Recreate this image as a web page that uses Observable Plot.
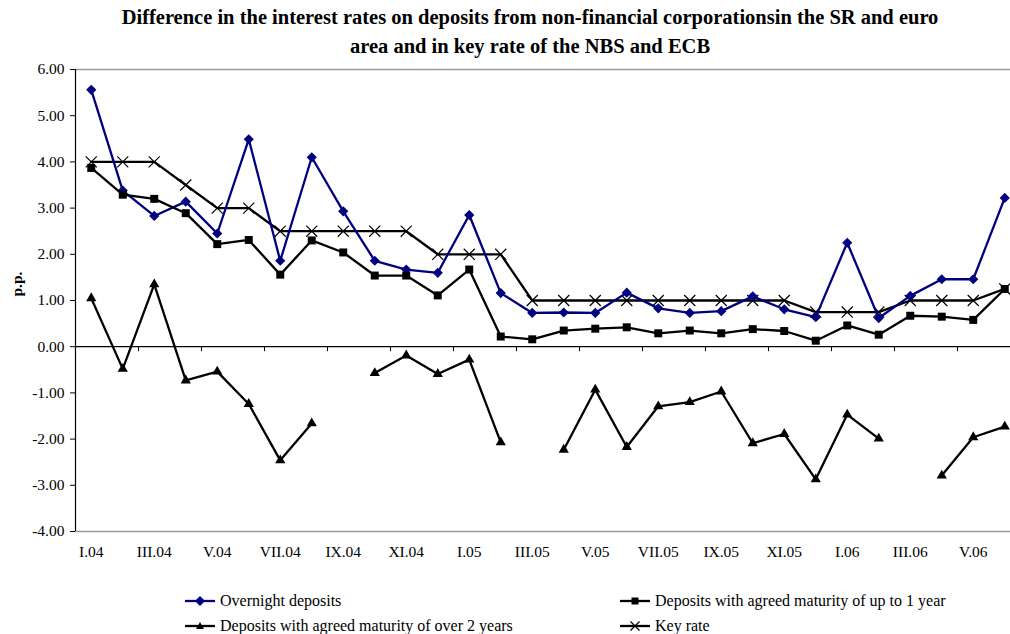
<!DOCTYPE html>
<html>
<head>
<meta charset="utf-8">
<script src="https://cdn.jsdelivr.net/npm/d3@7"></script>
<script src="https://cdn.jsdelivr.net/npm/@observablehq/plot@0.6"></script>
<style>
  html, body { margin: 0; padding: 0; background: #fff; }
  #wrap { position: relative; width: 1010px; height: 634px; overflow: hidden; font-family: "Liberation Serif", "Times New Roman", serif; color: #000; }
  #title { position: absolute; left: 30px; top: 3px; width: 1000px; text-align: center; font-weight: bold; font-size: 20.5px; line-height: 29px; white-space: nowrap; }
  #chart { position: absolute; left: 0; top: 62px; }
  .leg { position: absolute; display: flex; align-items: center; font-size: 16px; white-space: nowrap; }
  .leg svg { margin-right: 4px; }
</style>
</head>
<body>
<div id="wrap">
  <div id="title">Difference in the interest rates on deposits from non-financial corporationsin the SR and euro<br>area and in key rate of the NBS and ECB</div>
  <div id="chart"></div>
  <div id="legend"></div>
</div>
<script>
const months = ["I.04","II.04","III.04","IV.04","V.04","VI.04","VII.04","VIII.04","IX.04","X.04","XI.04","XII.04",
  "I.05","II.05","III.05","IV.05","V.05","VI.05","VII.05","VIII.05","IX.05","X.05","XI.05","XII.05",
  "I.06","II.06","III.06","IV.06","V.06","VI.06"];
const overnight = [5.56,3.38,2.83,3.14,2.45,4.49,1.86,4.10,2.93,1.86,1.67,1.60,2.85,1.16,0.73,0.74,0.73,1.17,0.83,0.73,0.77,1.09,0.81,0.64,2.25,0.62,1.10,1.46,1.46,3.22];
const upTo1y = [3.87,3.29,3.20,2.89,2.22,2.31,1.56,2.30,2.04,1.54,1.54,1.11,1.67,0.22,0.16,0.35,0.39,0.42,0.29,0.35,0.29,0.38,0.34,0.13,0.46,0.26,0.67,0.65,0.58,1.25];
const over2y = [1.05,-0.48,1.35,-0.73,-0.54,-1.24,-2.46,-1.66,null,-0.57,-0.19,-0.59,-0.28,-2.07,null,-2.23,-0.93,-2.17,-1.29,-1.20,-0.97,-2.09,-1.89,-2.87,-1.47,-1.99,null,-2.79,-1.96,-1.73];
const keyRate = [4.00,4.00,4.00,3.50,3.00,3.00,2.50,2.50,2.50,2.50,2.50,2.00,2.00,2.00,1.00,1.00,1.00,1.00,1.00,1.00,1.00,1.00,1.00,0.75,0.75,0.75,1.00,1.00,1.00,1.25];
const yTicks = [-4,-3,-2,-1,0,1,2,3,4,5,6];

const seriesNames = ["Overnight deposits","Deposits with agreed maturity of up to 1 year","Deposits with agreed maturity of over 2 years","Key rate"];
const toRows = (vals) => vals.map((v, i) => ({i, v}));
const labelIdx = months.map((m, i) => i).filter(i => i % 2 === 0);
const tickIdx = months.map((m, i) => i + 0.5).filter((t, k) => k % 2 === 1);

const NAVY = "#000080";
const chart = Plot.plot({
  width: 1010,
  height: 510,
  marginTop: 7,
  marginBottom: 41,
  marginLeft: 75,
  marginRight: -10,
  style: {fontFamily: "'Liberation Serif', 'Times New Roman', serif", fontSize: "15.5px", color: "#000", overflow: "visible"},
  x: {type: "linear", domain: [-0.5, months.length - 0.5], axis: null},
  y: {domain: [-4, 6], axis: null},
  marks: [
    Plot.ruleY([6, -4], {stroke: "#9a9a9a", strokeWidth: 1.5}),
    Plot.ruleX([-0.5], {stroke: "#000", strokeWidth: 1.2}),
    Plot.axisY({ticks: yTicks, tickFormat: d => d.toFixed(2), tickSize: 5, tickPadding: 6, fontSize: 15.5, anchor: "left", stroke: "#000", label: null}),
    Plot.ruleY([0], {stroke: "#000", strokeWidth: 1.2}),
    Plot.ruleX(tickIdx, {x: d => d, y1: 0, y2: 0, insetBottom: -5, stroke: "#000"}),
    Plot.axisX({ticks: labelIdx, tickFormat: i => months[i], tickSize: 0, tickPadding: 14, fontSize: 15.5, anchor: "bottom", label: null}),
    Plot.text(["p.p."], {frameAnchor: "left", dx: -58, dy: -4, rotate: -90, fontWeight: "bold", fontSize: 15.5}),
    // Key rate
    Plot.line(toRows(keyRate), {x: "i", y: "v", stroke: "#000", strokeWidth: 2.3}),
    Plot.dot(toRows(keyRate), {x: "i", y: "v", symbol: "times", r: 5.1, stroke: "#000", strokeWidth: 1.2, fill: "none"}),
    // Overnight
    Plot.line(toRows(overnight), {x: "i", y: "v", stroke: NAVY, strokeWidth: 2.3}),
    Plot.dot(toRows(overnight), {x: "i", y: "v", symbol: "diamond2", r: 4.6, fill: NAVY, stroke: "none"}),
    // up to 1 year
    Plot.line(toRows(upTo1y), {x: "i", y: "v", stroke: "#000", strokeWidth: 2.3}),
    Plot.dot(toRows(upTo1y), {x: "i", y: "v", symbol: "square", r: 4.5, fill: "#000", stroke: "none"}),
    // over 2 years
    Plot.line(toRows(over2y), {x: "i", y: "v", stroke: "#000", strokeWidth: 2.3}),
    Plot.dot(toRows(over2y), {x: "i", y: "v", symbol: "triangle", r: 3.8, fill: "#000", stroke: "none"})
  ]
});
document.getElementById("chart").appendChild(chart);

// Legend
const legendItems = [
  {name: seriesNames[0], color: NAVY, sym: "diamond", x: 185, y: 601},
  {name: seriesNames[1], color: "#000", sym: "square", x: 620, y: 601},
  {name: seriesNames[2], color: "#000", sym: "triangle", x: 185, y: 626},
  {name: seriesNames[3], color: "#000", sym: "times", x: 620, y: 626}
];
const symPath = {
  diamond: "M15,-5L20,0L15,5L10,0Z",
  square: "M11.5,-3.5H18.5V3.5H11.5Z",
  triangle: "M15,-4L19,3L11,3Z",
  times: "M10.5,-4.5L19.5,4.5M10.5,4.5L19.5,-4.5"
};
const leg = document.getElementById("legend");
for (const it of legendItems) {
  const d = document.createElement("div");
  d.className = "leg";
  d.style.left = it.x + "px";
  d.style.top = (it.y - 10) + "px";
  d.style.height = "20px";
  const isT = it.sym === "times";
  d.innerHTML = `<svg width="31" height="20" viewBox="0 -10 31 20"><line x1="0" y1="0" x2="30" y2="0" stroke="${it.color}" stroke-width="2.3"/>` +
    `<path d="${symPath[it.sym]}" fill="${isT ? "none" : it.color}" stroke="${isT ? it.color : "none"}" stroke-width="1.2"/></svg><span>${it.name}</span>`;
  leg.appendChild(d);
}
</script>
</body>
</html>
